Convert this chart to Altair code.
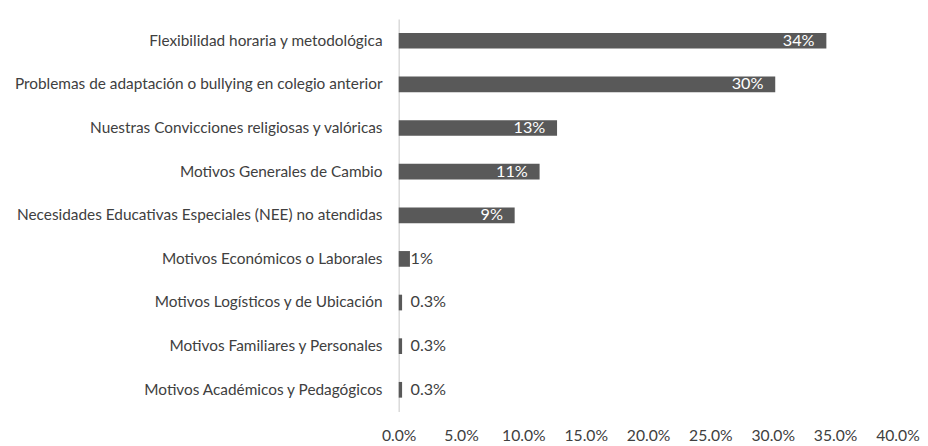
import altair as alt
import pandas as pd

categories = [
    "Flexibilidad horaria y metodológica",
    "Problemas de adaptación o bullying en colegio anterior",
    "Nuestras Convicciones religiosas y valóricas",
    "Motivos Generales de Cambio",
    "Necesidades Educativas Especiales (NEE) no atendidas",
    "Motivos Económicos o Laborales",
    "Motivos Logísticos y de Ubicación",
    "Motivos Familiares y Personales",
    "Motivos Académicos y Pedagógicos",
]
values = [34.3, 30.2, 12.7, 11.3, 9.3, 0.9, 0.27, 0.27, 0.27]
labels = ["34%", "30%", "13%", "11%", "9%", "1%", "0.3%", "0.3%", "0.3%"]
inside = [True, True, True, True, True, False, False, False, False]
x_ticks = [0, 5, 10, 15, 20, 25, 30, 35, 40]

df = pd.DataFrame({"cat": categories, "val": values, "lab": labels, "inside": inside})

FONT = "Lato"
BAR = "#595959"
TXT = "#404040"

y_enc = alt.Y(
    "cat:N",
    sort=categories,
    title=None,
    scale=alt.Scale(paddingInner=0.64, paddingOuter=0.32),
    axis=alt.Axis(
        labelFont=FONT, labelFontSize=15.65, labelColor=TXT, labelPadding=17,
        ticks=False, domain=True, domainColor="#d9d9d9", domainWidth=1.5,
        labelLimit=500,
    ),
)
x_scale = alt.Scale(domain=[0, 40], nice=False)

bars = alt.Chart(df).mark_bar(color=BAR).encode(
    x=alt.X(
        "val:Q", scale=x_scale, title=None,
        axis=alt.Axis(
            values=x_ticks, labelExpr="format(datum.value, '.1f') + '%'",
            labelFont=FONT, labelFontSize=16, labelColor=TXT,
            labelFlush=False, labelOverlap=False,
            domain=False, ticks=False, grid=False, labelPadding=16,
        ),
    ),
    y=y_enc,
)

txt_in = alt.Chart(df).transform_filter("datum.inside").mark_text(
    align="right", baseline="middle", dx=-12, color="white", font=FONT, fontSize=16.5
).encode(x=alt.X("val:Q", scale=x_scale), y=alt.Y("cat:N", sort=categories), text="lab:N")

txt_out = alt.Chart(df).transform_filter("!datum.inside").transform_calculate(
    base="0"
).mark_text(
    align="left", baseline="middle", dx=12, color=TXT, font=FONT, fontSize=16.5
).encode(x=alt.X("base:Q", scale=x_scale), y=alt.Y("cat:N", sort=categories), text="lab:N")

chart = alt.layer(bars, txt_in, txt_out).properties(
    width=508, height=400,
    padding={"left": 6, "top": 7, "right": 0, "bottom": 5},
).configure_view(stroke=None)

chart.save("out.html", embed_options={"renderer": "svg", "actions": False})
